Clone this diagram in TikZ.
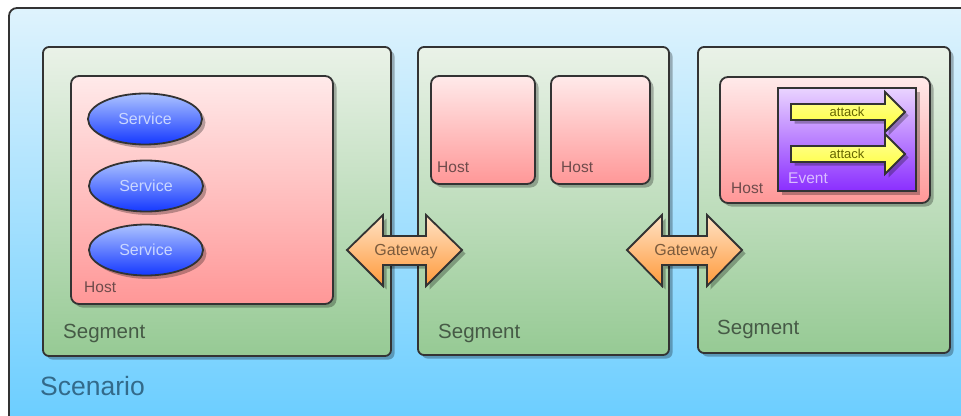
\documentclass[tikz,border=0pt]{standalone}
\usepackage{fontspec}
\setmainfont{Liberation Sans}
\usetikzlibrary{shadows,shapes.geometric}
\definecolor{edge}{HTML}{333333}
\tikzset{
  shade/.style={drop shadow={shadow xshift=3.5pt,shadow yshift=-3.5pt,opacity=0.28,fill=black}},
  box/.style={draw=edge,line width=1.8pt,inner sep=0pt,outer sep=0pt,anchor=north west},
  scenbox/.style={box,rounded corners=8pt,top color=scenT,bottom color=scenB},
  segbox/.style={box,shade,rounded corners=6pt,top color=segT,bottom color=segB},
  hostbox/.style={box,shade,rounded corners=8pt,top color=hostT,bottom color=hostB},
  evbox/.style={box,shade,top color=evT,bottom color=evB},
  svc/.style={ellipse,draw=edge,line width=1.8pt,shade,top color=svcT,bottom color=svcB,
    minimum width=114pt,minimum height=51pt,inner sep=0pt,text=svcTx,font=\fontsize{16}{16}\selectfont},
  gw/.style={draw=edge,line width=1.8pt,shade,top color=gwT,bottom color=gwB},
  atk/.style={draw=edge,line width=1.8pt,shade,top color=atkT,bottom color=atkB},
  seglbl/.style={anchor=west,text=segTx,font=\fontsize{20.5}{20.5}\selectfont,inner sep=0pt},
  hostlbl/.style={anchor=west,text=hostTx,font=\fontsize{15.5}{15.5}\selectfont,inner sep=0pt},
}
\definecolor{scenT}{HTML}{DFF3FD}
\definecolor{scenB}{HTML}{66CCFF}
\definecolor{segT}{HTML}{EAF2E8}
\definecolor{segB}{HTML}{96CA94}
\definecolor{hostT}{HTML}{FFEAEA}
\definecolor{hostB}{HTML}{FF9797}
\definecolor{evT}{HTML}{EAD4FF}
\definecolor{evB}{HTML}{8A2EFF}
\definecolor{svcT}{HTML}{ADC3FF}
\definecolor{svcB}{HTML}{1438FF}
\definecolor{svcTx}{HTML}{C9D6FF}
\definecolor{gwT}{HTML}{FFE2C6}
\definecolor{gwB}{HTML}{FF9A3A}
\definecolor{gwTx}{HTML}{7A5A3C}
\definecolor{atkT}{HTML}{FFFFA0}
\definecolor{atkB}{HTML}{FFFF33}
\definecolor{atkTx}{HTML}{666600}
\definecolor{segTx}{HTML}{465A46}
\definecolor{hostTx}{HTML}{6E4B4B}
\definecolor{scenTx}{HTML}{336A8A}
\definecolor{evTx}{HTML}{D9BCFF}
\begin{document}
\begin{tikzpicture}[x=1pt,y=-1pt]
\useasboundingbox (0,0) rectangle (961,415);
\clip (0,0) rectangle (961,415);
% scenario
\node[scenbox,minimum width=975pt,minimum height=430pt] (scen) at (9,8) {};
\node[anchor=west,text=scenTx,font=\fontsize{26.5}{26.5}\selectfont,inner sep=0pt] (scenl) at (40,386) {Scenario};
% segments
\node[segbox,minimum width=348pt,minimum height=309pt] (s1) at (43,47) {};
\node[segbox,minimum width=251pt,minimum height=308pt] (s2) at (418,47) {};
\node[segbox,minimum width=252pt,minimum height=306pt] (s3) at (698,47) {};
\node[seglbl] (s1l) at (63,333) {Segment};
\node[seglbl] (s2l) at (438,333) {Segment};
\node[seglbl] (s3l) at (717,329) {Segment};
% hosts
\node[hostbox,minimum width=262pt,minimum height=228pt] (h1) at (71,76) {};
\node[hostbox,minimum width=104pt,minimum height=108pt] (h2) at (431,76) {};
\node[hostbox,minimum width=99pt,minimum height=108pt] (h3) at (551,76) {};
\node[hostbox,minimum width=210pt,minimum height=126pt] (h4) at (720,77) {};
\node[hostlbl] (h1l) at (84,287) {Host};
\node[hostlbl] (h2l) at (437,167) {Host};
\node[hostlbl] (h3l) at (561,167) {Host};
\node[hostlbl] (h4l) at (731,188) {Host};
% services
\node[svc] (sv1) at (145,119) {Service};
\node[svc] (sv2) at (146,186) {Service};
\node[svc] (sv3) at (146,250) {Service};
% event
\node[evbox,minimum width=138pt,minimum height=103pt] (ev) at (778,88) {};
\node[anchor=west,text=evTx,font=\fontsize{15.5}{15.5}\selectfont,inner sep=0pt] (evl) at (788,178) {Event};
% attacks
\draw[atk] (791,104) -- (885,104) -- (885,92) -- (905,112) -- (885,132) -- (885,120) -- (791,120) -- cycle;
\node[text=atkTx,font=\fontsize{13}{13}\selectfont,inner sep=0pt] (a1) at (847,112) {attack};
\draw[atk] (791,146) -- (885,146) -- (885,134) -- (905,154) -- (885,174) -- (885,162) -- (791,162) -- cycle;
\node[text=atkTx,font=\fontsize{13}{13}\selectfont,inner sep=0pt] (a2) at (847,154) {attack};
% gateways
\draw[gw] (347,250) -- (383,215) -- (383,236) -- (426,236) -- (426,215) -- (462,250) -- (426,286) -- (426,265) -- (383,265) -- (383,286) -- cycle;
\node[text=gwTx,font=\fontsize{16}{16}\selectfont,inner sep=0pt] (g1) at (406,252) {Gateway};
\draw[gw] (627,250) -- (662,215) -- (662,236) -- (707,236) -- (707,215) -- (742,250) -- (707,286) -- (707,265) -- (662,265) -- (662,286) -- cycle;
\node[text=gwTx,font=\fontsize{16}{16}\selectfont,inner sep=0pt] (g2) at (686,252) {Gateway};
\end{tikzpicture}
\end{document}
